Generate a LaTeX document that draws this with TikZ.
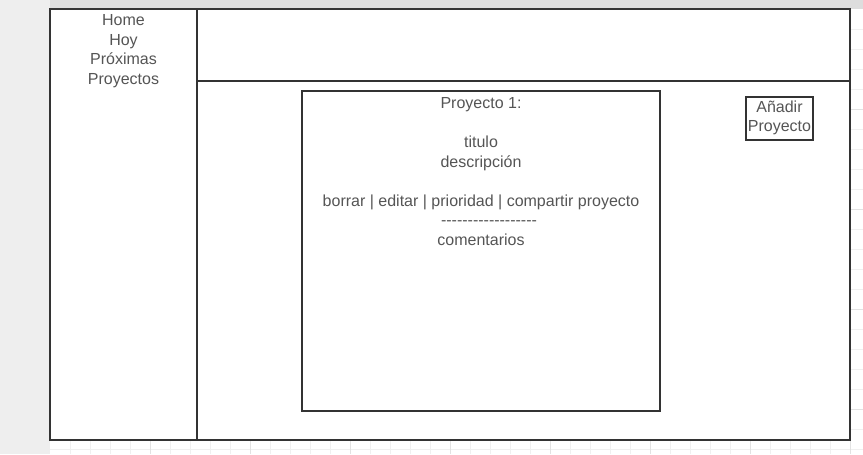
\documentclass[tikz,border=0pt]{standalone}
\usepackage{fontspec}
\newfontfamily\lsans{Liberation Sans}
\definecolor{txt}{HTML}{555555}
\definecolor{edge}{HTML}{333333}
\definecolor{gminor}{HTML}{F0F0F0}
\definecolor{gmajor}{HTML}{E2E2E2}
\definecolor{sideband}{HTML}{EEEEEE}
\definecolor{topband}{HTML}{DDDDDD}
\begin{document}
\begin{tikzpicture}[x=0.75pt,y=-0.75pt,
  box/.style={draw=edge,line width=0.8pt,fill=white},
  lbl/.style={text=txt,align=center,font=\lsans\fontsize{12}{14.6}\selectfont,inner sep=0pt}]
\useasboundingbox (0,0) rectangle (863,454);
% backgrounds
\fill[sideband] (0,0) rectangle (50,454);
\fill[topband] (50,0) rectangle (863,9);
\fill[white] (50,9) rectangle (863,454);
% grid
\foreach \gx in {70,90,...,850} \draw[gminor,line width=0.6pt] (\gx,9) -- (\gx,454);
\foreach \gy in {29,49,...,449} \draw[gminor,line width=0.6pt] (50,\gy) -- (863,\gy);
\foreach \gx in {150,250,...,850} \draw[gmajor,line width=0.6pt] (\gx,9) -- (\gx,454);
\foreach \gy in {109,209,...,409} \draw[gmajor,line width=0.6pt] (50,\gy) -- (863,\gy);
% frame
\draw[box] (50,9) rectangle (850,440);
\coordinate (divtop) at (197,9);
\coordinate (divbot) at (197,440);
\draw[edge,line width=0.8pt] (divtop) -- (divbot);
\coordinate (hl) at (197,81);
\coordinate (hr) at (850,81);
\draw[edge,line width=0.8pt] (hl) -- (hr);
% inner project card
\draw[box] (302,91) rectangle (660,411);
\draw[box] (746,97) rectangle (813,140);
% texts
\node[lbl] (menu) at (123.5,51) {Home\\Hoy\\Próximas\\Proyectos};
\node[lbl] (card) at (481,171.5) {Proyecto 1:\\\mbox{}\\titulo\\descripción\\\mbox{}\\borrar | editar | prioridad | compartir proyecto\\\hspace*{12pt}------------------\\comentarios};
\node[lbl] (add) at (779.5,118) {Añadir\\Proyecto};
\end{tikzpicture}
\end{document}
